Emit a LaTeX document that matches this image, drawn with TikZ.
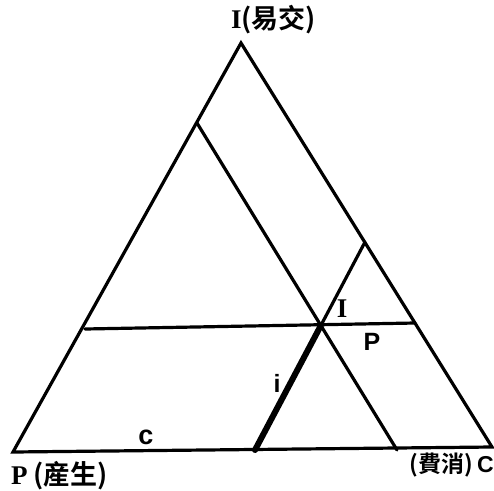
\documentclass[tikz,border=0pt]{standalone}
\usepackage{fontspec}
\newfontfamily\cjk{Noto Sans CJK SC}[BoldFont={* Bold}]
\newfontfamily\lab{Liberation Sans}
\newfontfamily\ser{Liberation Serif}
\begin{document}
\begin{tikzpicture}[x=1pt,y=-1pt,
  edge/.style={line width=3.2pt,line join=miter,line cap=round},
  heavy/.style={line width=6pt,line cap=round},
  biglab/.style={inner sep=0pt,font=\bfseries},
  smalllab/.style={inner sep=0pt,font=\fontsize{25}{25}\selectfont\lab\bfseries}]
\useasboundingbox (0,0) rectangle (494,490);
\coordinate (P) at (13,452);
\coordinate (C) at (492,447);
\coordinate (I) at (241,43);
\coordinate (A) at (197,123);
\coordinate (B) at (397,450);
\coordinate (H1) at (85,329);
\coordinate (H2) at (415,323);
\coordinate (D) at (255,450);
\coordinate (E) at (365,242);
\coordinate (T) at (intersection of A--B and D--E);
\draw[edge] (P) -- (I) -- (C) -- cycle;
\draw[edge] (A) -- (B);
\draw[edge] (H1) -- (H2);
\draw[edge] (T) -- (E);
\draw[heavy] (D) -- (T);
\node[biglab,anchor=west,font=\fontsize{27}{27}\selectfont\bfseries] (lI) at (231,20) {{\ser I}{\cjk(易交)}};
\node[biglab,anchor=west,font=\fontsize{27}{27}\selectfont\bfseries] (lP) at (11,476) {{\ser P}\hspace{6pt}{\cjk(産生)}};
\node[biglab,anchor=east,font=\fontsize{23}{23}\selectfont\bfseries] (lC) at (494,465) {{\cjk(費消)}\,{\lab C}};
\node[smalllab,font=\fontsize{27}{27}\selectfont\lab\bfseries] (lc) at (146,437) {c};
\node[smalllab] (li) at (277,383) {i};
\node[biglab,font=\fontsize{27}{27}\selectfont\ser\bfseries] (lT) at (342,309) {I};
\node[smalllab] (lp) at (372,342) {P};
\end{tikzpicture}
\end{document}
